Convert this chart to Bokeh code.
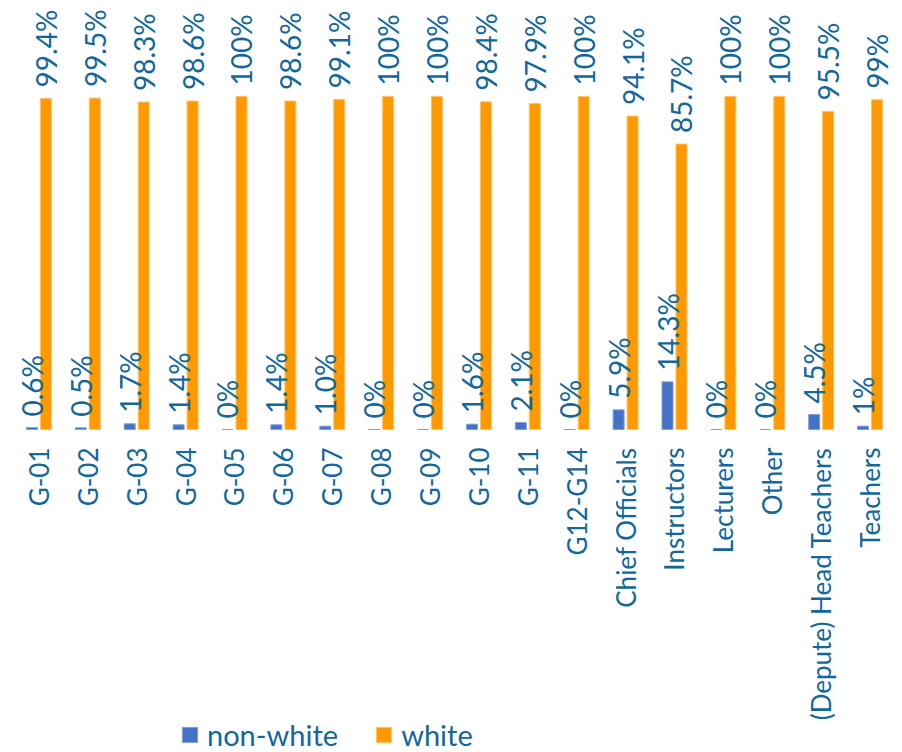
import math
from bokeh.plotting import figure
from bokeh.models import ColumnDataSource, LabelSet, Legend, LegendItem, Range1d, FactorRange
from bokeh.core.properties import value
from bokeh.transform import dodge
from bokeh.embed import file_html
from bokeh.resources import INLINE

categories = ["G-01", "G-02", "G-03", "G-04", "G-05", "G-06", "G-07", "G-08", "G-09",
              "G-10", "G-11", "G12-G14", "Chief Officials", "Instructors", "Lecturers",
              "Other", "(Depute) Head Teachers", "Teachers"]
nonwhite = [0.6, 0.5, 1.7, 1.4, 0, 1.4, 1.0, 0, 0, 1.6, 2.1, 0, 5.9, 14.3, 0, 0, 4.5, 1]
white = [99.4, 99.5, 98.3, 98.6, 100, 98.6, 99.1, 100, 100, 98.4, 97.9, 100, 94.1, 85.7,
         100, 100, 95.5, 99]
nonwhite_labels = ["0.6%", "0.5%", "1.7%", "1.4%", "0%", "1.4%", "1.0%", "0%", "0%", "1.6%",
                   "2.1%", "0%", "5.9%", "14.3%", "0%", "0%", "4.5%", "1%"]
white_labels = ["99.4%", "99.5%", "98.3%", "98.6%", "100%", "98.6%", "99.1%", "100%", "100%",
                "98.4%", "97.9%", "100%", "94.1%", "85.7%", "100%", "100%", "95.5%", "99%"]

BLUE = "#4472C4"
ORANGE = "#FF9900"
TXT = "#12679B"
FONT = "Lato"

src = ColumnDataSource(dict(cat=categories, nw=nonwhite, w=white, zero=[0] * len(categories),
                            nwl=nonwhite_labels, wl=white_labels))

p = figure(x_range=FactorRange(*categories, range_padding=0), y_range=Range1d(-96.98, 126.4),
           frame_width=880, frame_height=744, output_backend="svg", toolbar_location=None,
           min_border_left=14, min_border_right=0, min_border_top=8, min_border_bottom=0)
p.x_range.range_padding = 0

off = 0.143
bw = 0.225
r1 = p.vbar(x=dodge("cat", -off, range=p.x_range), top="nw", width=bw, source=src,
            fill_color=BLUE, line_color="#7F9FD8", line_width=1)
r2 = p.vbar(x=dodge("cat", off, range=p.x_range), top="w", width=bw, source=src,
            fill_color=ORANGE, line_color="#FFC266", line_width=1)

for col, lab, o in (("nw", "nwl", -off), ("w", "wl", off)):
    ls = LabelSet(x=dodge("cat", o, range=p.x_range), y=col, text=lab, source=src,
                  angle=math.pi / 2, text_align="left", text_baseline="middle",
                  y_offset=11, text_font=value(FONT), text_font_size="28px", text_color=TXT)
    p.add_layout(ls)

# category labels (vertical, below the baseline)
cat_labels = LabelSet(x="cat", y="zero", text="cat", source=src,
                      angle=math.pi / 2, text_align="right", text_baseline="middle",
                      y_offset=-18, text_font=value(FONT), text_font_size="26px",
                      text_color=TXT)
p.add_layout(cat_labels)

p.axis.visible = False
p.grid.visible = False
p.outline_line_color = None

legend = Legend(items=[LegendItem(label="non-white", renderers=[r1]),
                       LegendItem(label="white", renderers=[r2])],
                orientation="horizontal", location=(166, 0),
                glyph_width=19, glyph_height=19, label_standoff=8, spacing=36,
                label_text_font=FONT, label_text_font_size="29px", label_text_color=TXT,
                label_text_baseline="middle",
                border_line_color=None, background_fill_alpha=0, padding=0, margin=0,
                label_height=26)
p.add_layout(legend, "center")

open("out.html", "w").write(file_html(p, INLINE))
